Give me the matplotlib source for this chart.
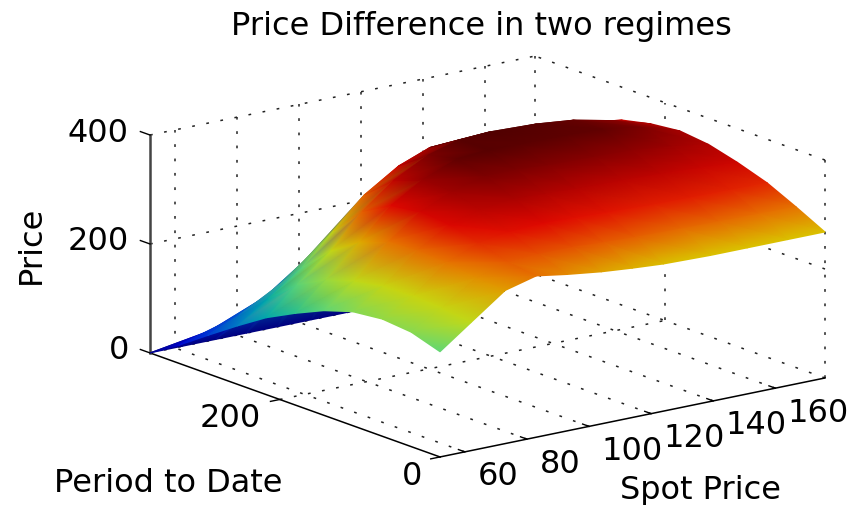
import matplotlib
matplotlib.use('Agg')
import matplotlib.pyplot as plt
from matplotlib.colors import LinearSegmentedColormap
import numpy as np
from mpl_toolkits.mplot3d import proj3d

# values
spot = [52, 62, 73, 83, 93, 104, 114, 124, 139, 151, 164, 176]
period = [0, 36, 72, 109, 145, 181, 217, 253, 290, 326, 362]

# one row per period, one column per spot
price = [
    [193, 235, 281, 296, 287, 279, 274, 270, 268, 268, 268, 268],
    [210, 243, 285, 302, 305, 305, 302, 300, 298, 297, 296, 295],
    [215, 246, 295, 318, 327, 330, 328, 326, 323, 322, 321, 320],
    [209, 245, 298, 332, 347, 355, 352, 350, 348, 346, 342, 338],
    [192, 235, 295, 337, 362, 378, 378, 374, 372, 370, 362, 352],
    [168, 218, 275, 330, 365, 390, 395, 393, 392, 390, 378, 358],
    [141, 190, 240, 300, 345, 378, 395, 398, 395, 388, 372, 352],
    [107, 145, 190, 245, 300, 340, 362, 365, 362, 358, 350, 340],
    [70, 95, 125, 170, 215, 260, 300, 325, 330, 325, 318, 305],
    [33, 48, 62, 85, 110, 130, 150, 165, 170, 170, 170, 170],
    [0, 0, 0, 0, 0, 0, 0, 0, 0, 0, 0, 0],
]

spot_ticks = [60, 80, 100, 120, 140, 160]
period_ticks = [0, 200]
price_ticks = [0, 200, 400]

spot_lim = (52, 176)
period_lim = (0, 362)
price_lim = (0, 400)

# colours against price
shade_at = [0, 40, 100, 150, 195, 235, 265, 295, 330, 365, 400]
shades = ['#000080', '#0000e0', '#0072cc', '#00b2a5', '#66d973', '#bfd91a',
          '#d9cc00', '#e67300', '#e00800', '#990000', '#4d0000']
surface_cmap = LinearSegmentedColormap.from_list(
    'regimes', [(v / shade_at[-1], c) for v, c in zip(shade_at, shades)])

W, H = 858, 505
dots = (0, (1.8, 7.6))
txt = 23

fig = plt.figure(figsize=(W / 100, H / 100), dpi=100)

# square 3d axes placed so the box corners land where they are in the picture
S = 720
left = 487.5 - 0.5135 * S
bottom = 248.5 - 0.5135 * S
ax = fig.add_axes([left / W, bottom / H, S / W, S / H], projection='3d',
                  computed_zorder=False, proj_type='ortho')
ax.view_init(elev=15.74, azim=-127.1)
ax.set_box_aspect((1, 0.996, 0.469), zoom=0.968)
ax.set_xlim(*spot_lim)
ax.set_ylim(*period_lim)
ax.set_zlim(*price_lim)
ax.set_axis_off()
ax.patch.set_alpha(0)

xa, xb = spot_lim
ya, yb = period_lim
za, zb = price_lim


def dotted(xs, ys, zs):
    ax.plot(xs, ys, zs, color='#222222', lw=1.1, ls=dots, zorder=1)


# floor grid
for s in spot_ticks:
    dotted([s, s], [ya, yb], [za, za])
for p in period_ticks[1:]:
    dotted([xa, xb], [p, p], [za, za])
dotted([xa, xb], [yb, yb], [za, za])
dotted([xb, xb], [ya, yb], [za, za])

# back walls
for s in spot_ticks:
    dotted([s, s], [yb, yb], [za, zb])
for p in period_ticks[1:]:
    dotted([xb, xb], [p, p], [za, zb])
dotted([xb, xb], [ya, ya], [za, zb])
dotted([xb, xb], [yb, yb], [za, zb])
for z in price_ticks[1:]:
    dotted([xa, xb], [yb, yb], [z, z])
    dotted([xb, xb], [ya, yb], [z, z])

# box edges with ticks
ax.plot([xa, xb], [ya, ya], [za, za], color='k', lw=1.1, zorder=3)
ax.plot([xa, xa], [ya, yb], [za, za], color='k', lw=1.1, zorder=3)
ax.plot([xa, xa], [yb, yb], [za, zb], color='#444444', lw=1.8, zorder=3)
for s in spot_ticks:
    ax.plot([s, s], [ya, ya + 8], [za, za], color='k', lw=1, zorder=3)
for p in period_ticks:
    ax.plot([xa, xa - 3], [p, p], [za, za], color='k', lw=1, zorder=3)
for z in price_ticks:
    ax.plot([xa, xa], [yb, yb + 12], [z, z], color='k', lw=1, zorder=3)

# surface: smooth colours, triangles painted from the far side to the near side.
# 3d axes cannot hold a gouraud mesh, so it sits on a flat pixel axes on top
X, Y = np.meshgrid(spot, period)
Z = np.array(price, dtype=float)
M = ax.get_proj()
px, py, pz = proj3d.proj_transform(X.ravel(), Y.ravel(), Z.ravel(), M)
screen = ax.transData.transform(np.column_stack([px, py]))
nrow, ncol = Z.shape
tris = []
for i in range(nrow - 1):
    for j in range(ncol - 1):
        a = i * ncol + j
        tris.append([a, a + 1, a + ncol])
        tris.append([a + 1, a + ncol + 1, a + ncol])
tris = np.array(tris)
_, _, near = proj3d.proj_transform(xa, ya, za, M)
_, _, far = proj3d.proj_transform(xb, yb, za, M)
depth = np.sign(far - near) * np.asarray(pz)[tris].mean(axis=1)
tris = tris[np.argsort(-depth)]

ov = fig.add_axes([0, 0, 1, 1], zorder=2)
ov.set_xlim(0, W)
ov.set_ylim(0, H)
ov.axis('off')
ov.tripcolor(screen[:, 0], screen[:, 1], tris, Z.ravel(), shading='gouraud',
             cmap=surface_cmap, vmin=0, vmax=400)
ov.set_xlim(0, W)
ov.set_ylim(0, H)


def tick_label(x, y, z, label, dx, dy, ha='center'):
    tx, ty, _ = proj3d.proj_transform(x, y, z, M)
    ax.annotate(label, (tx, ty), xytext=(dx, dy), textcoords='offset pixels',
                ha=ha, va='center', fontsize=txt, annotation_clip=False)


for s in spot_ticks:
    dx = 33 if s < 100 else 43
    tick_label(s, ya, za, str(s), dx, -25)
tick_label(xa, 0, za, '0', -28, -20)
tick_label(xa, 200, za, '200', -50, -19)
for z in price_ticks:
    tick_label(xa, yb, z, str(z), -21, 2, ha='right')

fig.text(481 / W, 1 - 27 / H, 'Price Difference in two regimes', ha='center', va='center', fontsize=txt)
fig.text(31 / W, 1 - 245 / H, 'Price', ha='center', va='center', rotation=90, fontsize=txt)
fig.text(168 / W, 1 - 483 / H, 'Period to Date', ha='center', va='center', fontsize=txt)
fig.text(700 / W, 1 - 490 / H, 'Spot Price', ha='center', va='center', fontsize=txt)

fig.savefig('out.png', dpi=100)
